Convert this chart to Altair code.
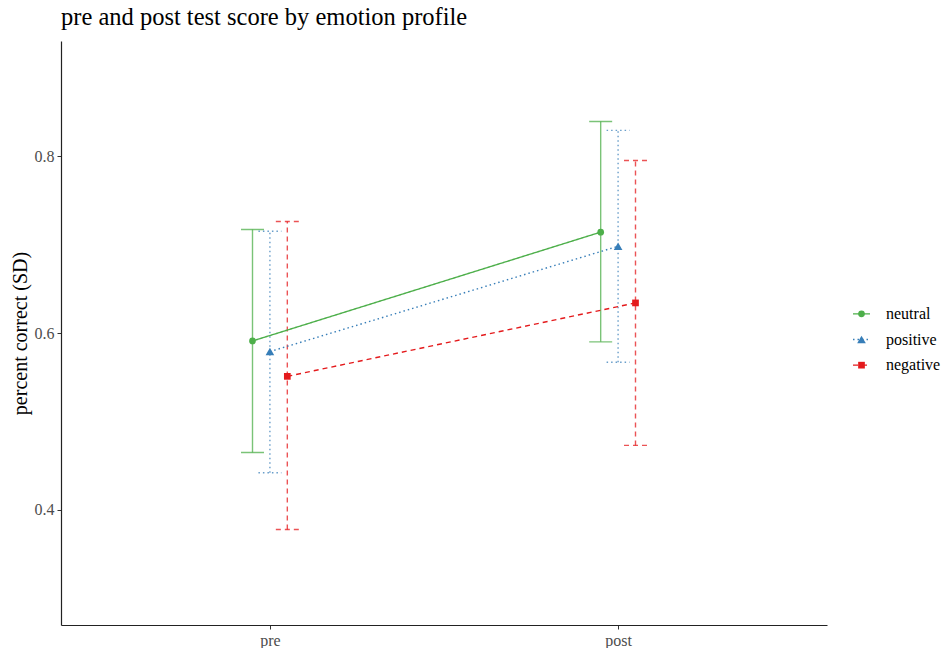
import altair as alt
import pandas as pd

phases = ["pre", "post"]
series = ["neutral", "positive", "negative"]
colors = ["#4DAF4A", "#377EB8", "#E41A1C"]
shapes = ["circle", "triangle-up", "square"]
dashes = [[1, 0], [1.5, 3.0], [5, 4]]
marker_sizes = [45, 75, 45]

mean_neutral = [0.591, 0.714]
lower_neutral = [0.465, 0.590]
upper_neutral = [0.717, 0.839]

mean_positive = [0.579, 0.698]
lower_positive = [0.442, 0.567]
upper_positive = [0.715, 0.829]

mean_negative = [0.551, 0.634]
lower_negative = [0.378, 0.473]
upper_negative = [0.726, 0.795]

means = [mean_neutral, mean_positive, mean_negative]
lowers = [lower_neutral, lower_positive, lower_negative]
uppers = [upper_neutral, upper_positive, upper_negative]

rows = []
for gi, s in enumerate(series):
    for pi, p in enumerate(phases):
        rows.append({
            "series": s, "phase": p, "phase_idx": pi + 1, "group_idx": gi,
            "mean": means[gi][pi], "lower": lowers[gi][pi], "upper": uppers[gi][pi],
        })
df = pd.DataFrame(rows)

FONT = "Liberation Serif"
color_scale = alt.Scale(domain=series, range=colors)
shape_scale = alt.Scale(domain=series, range=shapes)
dash_scale = alt.Scale(domain=series, range=dashes)
size_scale = alt.Scale(type="ordinal", domain=series, range=marker_sizes)

label_expr = " : ".join(
    [f"datum.value == {i + 1} ? '{p}'" for i, p in enumerate(phases[:-1])] + [f"'{phases[-1]}'"]
)

base = alt.Chart(df).transform_calculate(
    xpos="datum.phase_idx + (datum.group_idx - 1) * 0.05",
    xlo="datum.phase_idx + (datum.group_idx - 1) * 0.05 - 0.033",
    xhi="datum.phase_idx + (datum.group_idx - 1) * 0.05 + 0.033",
)

x_scale = alt.Scale(domain=[0.4, 2.6], nice=False, zero=False)
x_enc = alt.X(
    "xpos:Q", scale=x_scale,
    axis=alt.Axis(values=[1, 2], labelExpr=label_expr, title=None, grid=False),
)
y_scale = alt.Scale(domain=[0.27, 0.93], nice=False, zero=False)
y_enc = alt.Y(
    "mean:Q", scale=y_scale,
    axis=alt.Axis(values=[0.4, 0.6, 0.8], format=".1f", title="percent correct (SD)", grid=False),
)
col = alt.Color("series:N", scale=color_scale, legend=None)
dash = alt.StrokeDash("series:N", scale=dash_scale, legend=None)
shp = alt.Shape("series:N", scale=shape_scale, legend=None)
sz = alt.Size("series:N", scale=size_scale, legend=None)

vbars = base.mark_rule(strokeWidth=1.4, opacity=0.75).encode(
    x=x_enc, y=alt.Y("lower:Q", scale=y_scale), y2="upper:Q", color=col, strokeDash=dash
)
caps_hi = base.mark_rule(strokeWidth=1.4, opacity=0.75).encode(
    x=alt.X("xlo:Q", scale=x_scale), x2="xhi:Q",
    y=alt.Y("upper:Q", scale=y_scale), color=col, strokeDash=dash
)
caps_lo = base.mark_rule(strokeWidth=1.4, opacity=0.75).encode(
    x=alt.X("xlo:Q", scale=x_scale), x2="xhi:Q",
    y=alt.Y("lower:Q", scale=y_scale), color=col, strokeDash=dash
)
lines = base.mark_line(strokeWidth=1.4).encode(
    x=x_enc, y=y_enc, color=col, strokeDash=dash, detail="series:N"
)
points = base.mark_point(filled=True, opacity=1).encode(
    x=x_enc, y=y_enc, color=col, shape=shp, size=sz,
)

main = alt.layer(vbars, caps_hi, caps_lo, lines, points).properties(
    width=766, height=584,
    title=alt.TitleParams(
        "pre and post test score by emotion profile", anchor="start", frame="group",
        font=FONT, fontSize=24.5, fontWeight="normal", color="black", offset=11,
    ),
)

leg_df = pd.DataFrame({"series": series})
leg_y = alt.Y("series:N", scale=alt.Scale(domain=series, range=[260, 337]), axis=None)
leg_base = alt.Chart(leg_df)
leg_rule = leg_base.mark_rule(strokeWidth=1.4).encode(
    x=alt.value(2), x2=alt.value(19), y=leg_y, color=col, strokeDash=dash
)
leg_pt = leg_base.mark_point(filled=True, opacity=1).encode(
    x=alt.value(10.5), y=leg_y, color=col, shape=shp, size=sz,
)
leg_txt = leg_base.mark_text(align="left", baseline="middle", font=FONT, fontSize=16, color="black").encode(
    x=alt.value(35), y=leg_y, text="series:N"
)
legend = alt.layer(leg_rule, leg_pt, leg_txt).properties(width=90, height=584)

chart = alt.hconcat(main, legend, spacing=24).resolve_scale(
    color="shared", shape="shared", strokeDash="shared", size="shared"
).properties(
    padding={"left": 10, "top": 4, "right": 0, "bottom": 0}
).configure_view(stroke=None).configure_axis(
    labelFont=FONT, labelFontSize=16, labelColor="#4D4D4D",
    titleFont=FONT, titleFontSize=20, titleColor="black", titleFontWeight="normal",
    domainColor="#222222", domainWidth=1.2, tickColor="#333333", tickSize=4, labelPadding=3,
).configure_axisY(titlePadding=4)

chart.save("out.html", embed_options={"renderer": "svg", "actions": False})
